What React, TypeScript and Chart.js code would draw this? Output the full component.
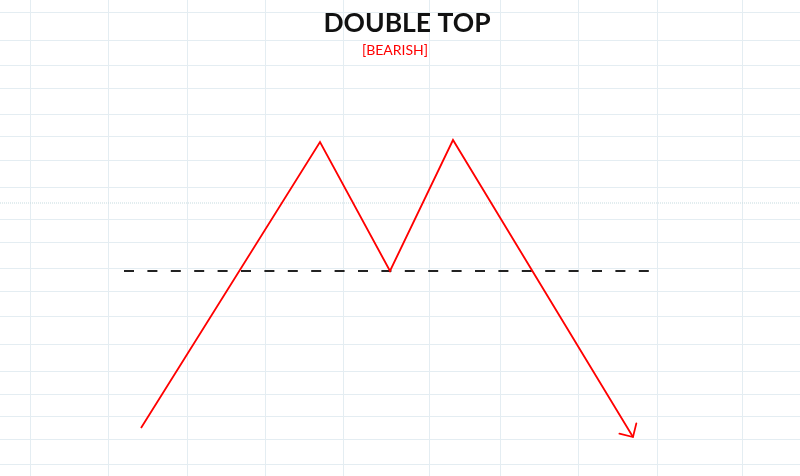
import React, { useEffect, useRef } from "react";
import { Chart, registerables } from "chart.js";

Chart.register(...registerables);

const titleText = "DOUBLE TOP";
const subtitleText = "[BEARISH]";

// pattern path (x, price)
const patternX = [141, 320, 390, 453, 633];
const patternY = [48, 334, 205, 336, 39];

// neckline
const necklineX = [124, 650];
const necklineY = [205, 205];

// background grid
const gridXTicks = [30, 108, 187, 265, 343, 429, 500, 578, 657, 742];
const gridYTicks = [464, 436, 410, 388, 362, 340, 316, 289, 257, 234, 208, 185, 160, 132, 105, 82, 60, 37, 12];
const dottedLineY = 273;

const RED = "#ff0000";

const overlayPlugin = {
  id: "overlay",
  afterDatasetsDraw(chart: any) {
    const ctx = chart.ctx;
    const meta = chart.getDatasetMeta(0);
    const pts = meta.data;
    if (pts.length >= 2) {
      const a = pts[pts.length - 2];
      const b = pts[pts.length - 1];
      const ang = Math.atan2(b.y - a.y, b.x - a.x);
      const len = 14;
      const spread = (45 * Math.PI) / 180;
      ctx.save();
      ctx.strokeStyle = RED;
      ctx.lineWidth = 1.8;
      ctx.lineCap = "round";
      ctx.beginPath();
      ctx.moveTo(b.x - len * Math.cos(ang - spread), b.y - len * Math.sin(ang - spread));
      ctx.lineTo(b.x, b.y);
      ctx.lineTo(b.x - len * Math.cos(ang + spread), b.y - len * Math.sin(ang + spread));
      ctx.stroke();
      ctx.restore();
    }
    ctx.save();
    ctx.textAlign = "center";
    ctx.textBaseline = "alphabetic";
    ctx.fillStyle = "#111111";
    ctx.font = "bold 26.5px Lato";
    ctx.fillText(titleText, 407, 32);
    ctx.fillStyle = RED;
    ctx.font = "14px Lato";
    ctx.fillText(subtitleText, 395, 55);
    ctx.restore();
  },
};

export default function App() {
  const ref = useRef<HTMLCanvasElement | null>(null);
  useEffect(() => {
    if (!ref.current) return;
    const chart = new Chart(ref.current, {
      type: "line",
      data: {
        datasets: [
          {
            data: patternX.map((x, i) => ({ x, y: patternY[i] })),
            borderColor: RED,
            borderWidth: 1.8,
            pointRadius: 0,
            tension: 0,
            fill: false,
          },
          {
            data: necklineX.map((x, i) => ({ x, y: necklineY[i] })),
            borderColor: "#222222",
            borderWidth: 1.8,
            borderDash: [10, 13.4],
            pointRadius: 0,
            tension: 0,
            fill: false,
          },
          {
            data: [
              { x: 0, y: dottedLineY },
              { x: 800, y: dottedLineY },
            ],
            borderColor: "#c6dbe0",
            borderWidth: 1,
            borderDash: [1, 1],
            pointRadius: 0,
            fill: false,
          },
        ],
      },
      options: {
        animation: false,
        responsive: true,
        maintainAspectRatio: false,
        layout: { padding: 0 },
        plugins: {
          legend: { display: false },
          tooltip: { enabled: false },
          title: { display: false },
        },
        scales: {
          x: {
            type: "linear",
            min: 0,
            max: 800,
            border: { display: false },
            ticks: { display: false },
            grid: { color: "#e4edf2", lineWidth: 1, drawTicks: false },
            afterBuildTicks: (s: any) => {
              s.ticks = gridXTicks.map((v) => ({ value: v }));
            },
          },
          y: {
            type: "linear",
            min: 0,
            max: 476,
            border: { display: false },
            ticks: { display: false },
            grid: { color: "#e4edf2", lineWidth: 1, drawTicks: false },
            afterBuildTicks: (s: any) => {
              s.ticks = gridYTicks.map((v) => ({ value: v }));
            },
          },
        },
      },
      plugins: [overlayPlugin],
    });
    return () => chart.destroy();
  }, []);
  return (
    <div style={{ position: "fixed", left: 0, top: 0, width: 800, height: 476, background: "#ffffff" }}>
      <canvas ref={ref} />
    </div>
  );
}
